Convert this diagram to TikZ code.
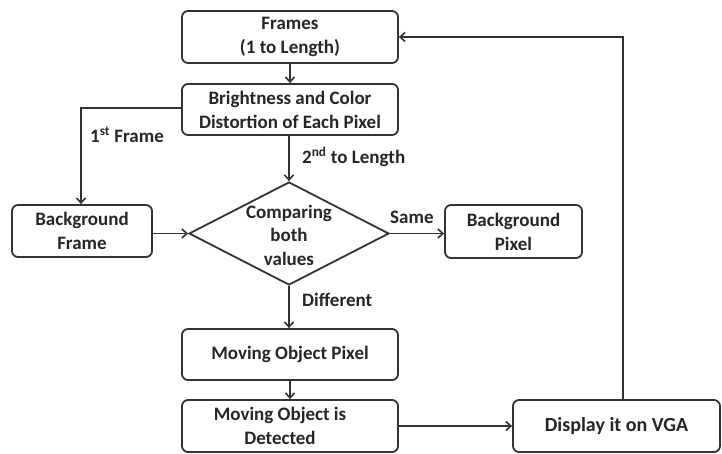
\documentclass[tikz,border=0pt]{standalone}
\usepackage{fontspec}
\setmainfont{Carlito}
\usetikzlibrary{arrows.meta,shapes.geometric}
\definecolor{ln}{HTML}{333333}
\definecolor{tx}{HTML}{262626}
\tikzset{
  box/.style={draw=ln, line width=1.8pt, rounded corners=6pt, align=center, inner sep=0pt,
    font=\fontsize{19}{24}\selectfont\bfseries, text=tx},
  lbl/.style={font=\fontsize{19}{24}\selectfont\bfseries, text=tx, inner sep=0pt, anchor=west},
  txt/.style={align=center, font=\fontsize{19}{23.5}\selectfont\bfseries, text=tx, inner sep=0pt},
  conn/.style={draw=ln, line width=1.8pt, -{Straight Barb[length=5pt,width=9pt,line width=1.6pt]}},
  plain/.style={draw=ln, line width=1.8pt}
}
\begin{document}
\begin{tikzpicture}[x=1pt,y=-1pt]
\useasboundingbox (0,0) rectangle (722,453);
\node[box, minimum width=216pt, minimum height=52pt] (frames) at (290,37) {Frames\\(1 to Length)};
\node[box, minimum width=216pt, minimum height=51pt] (bright) at (290,109.5) {Brightness and Color\\Distortion of Each Pixel};
\node[box, minimum width=140pt, minimum height=52pt] (bgf) at (82,231) {Background\\Frame};
\node[diamond, draw=ln, line width=1.8pt, minimum width=200pt, minimum height=103pt, inner sep=0pt] (cmp) at (289,233.5) {};
\node[txt] (cmptxt) at (289,235) {Comparing\\both\\values};
\node[box, minimum width=137pt, minimum height=53pt] (bgp) at (513.5,231.5) {Background\\Pixel};
\node[box, minimum width=216pt, minimum height=51pt] (mop) at (290,354.5) {Moving Object Pixel};
\node[box, minimum width=216pt, minimum height=52pt] (mod) at (290,426) {\hspace*{-20pt}Moving Object is\\\hspace*{-20pt}Detected};
\node[box, minimum width=207pt, minimum height=52pt, font=\fontsize{20}{24}\selectfont\bfseries] (vga) at (616.5,426) {Display it on VGA};
\coordinate (c1) at (81,108);
\coordinate (c2) at (623,37);
\coordinate (c3) at (623,400);
\node[lbl] (l1) at (90,135) {1\textsuperscript{st} Frame};
\node[lbl] (l2) at (302,157) {2\textsuperscript{nd} to Length};
\node[lbl] (l3) at (390,217) {Same};
\node[lbl] (l4) at (302,300) {Different};
\draw[conn] (frames.south) -- (bright.north);
\draw[conn] (bright.west |- c1) -- (c1) -- (bgf.north -| c1);
\draw[conn] (bright.south -| cmp.north) -- (cmp.north);
\draw[conn] (bgf.east |- cmp.west) -- (cmp.west);
\draw[conn] (cmp.east) -- (bgp.west |- cmp.east);
\draw[conn] (cmp.south) -- (mop.north -| cmp.south);
\draw[conn] (mop.south) -- (mod.north);
\draw[conn] (mod.east) -- (vga.west);
\draw[conn] (c3) -- (c2) -- (frames.east |- c2);
\end{tikzpicture}
\end{document}
